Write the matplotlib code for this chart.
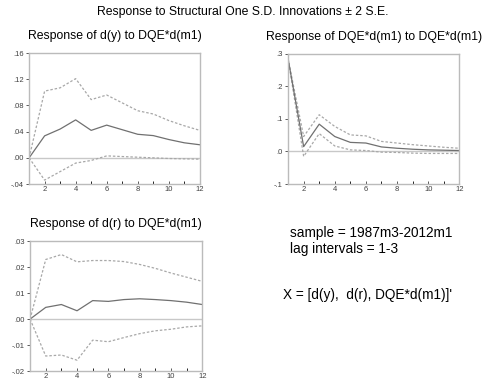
import matplotlib
matplotlib.use('Agg')
import matplotlib.pyplot as plt
import numpy as np

plt.rcParams['font.family'] = ['Liberation Sans', 'DejaVu Sans']

periods = np.arange(1, 13)

# Response of d(y) to DQE*d(m1)
dy_mid = [0.0, 0.0336, 0.044, 0.058, 0.042, 0.050, 0.043, 0.036, 0.034, 0.028, 0.023, 0.020]
dy_up = [0.0, 0.102, 0.107, 0.121, 0.089, 0.096, 0.084, 0.072, 0.067, 0.057, 0.049, 0.042]
dy_lo = [0.0, -0.034, -0.021, -0.008, -0.004, 0.003, 0.002, 0.001, 0.0, -0.001, -0.0015, -0.002]

# Response of DQE*d(m1) to DQE*d(m1)
dm_mid = [0.285, 0.015, 0.084, 0.046, 0.028, 0.026, 0.014, 0.010, 0.007, 0.005, 0.004, 0.003]
dm_up = [0.285, 0.046, 0.113, 0.077, 0.051, 0.048, 0.031, 0.026, 0.021, 0.017, 0.013, 0.010]
dm_lo = [0.285, -0.015, 0.055, 0.017, 0.005, 0.003, -0.002, -0.003, -0.005, -0.006, -0.006, -0.006]

# Response of d(r) to DQE*d(m1)
dr_mid = [0.0, 0.0045, 0.0056, 0.0032, 0.0071, 0.0068, 0.0075, 0.0078, 0.0075, 0.0071, 0.0065, 0.0056]
dr_up = [0.0, 0.0229, 0.0248, 0.022, 0.0225, 0.0225, 0.0221, 0.021, 0.0195, 0.0177, 0.0161, 0.0145]
dr_lo = [0.0, -0.0142, -0.0138, -0.0158, -0.0081, -0.0087, -0.0071, -0.0056, -0.0045, -0.0039, -0.003, -0.0026]


def fmt(v, nd):
    s = f"{v:.{nd}f}"
    return s.replace("0.", ".", 1)


def panel(ax, title, mid, up, lo, yticks, nd):
    ax.axhline(0, color='#c8c8c8', lw=1.0, zorder=1)
    ax.plot(periods, up, color='#a8a8a8', lw=0.9, ls=(0, (2, 1.5)))
    ax.plot(periods, lo, color='#a8a8a8', lw=0.9, ls=(0, (2, 1.5)))
    ax.plot(periods, mid, color='#707070', lw=0.9)
    ax.set_xlim(1, 12)
    ax.set_ylim(yticks[0], yticks[-1])
    ax.set_yticks(yticks)
    ax.set_yticklabels([fmt(v, nd) for v in yticks])
    ax.set_xticks(periods, minor=True)
    ax.set_xticks([2, 4, 6, 8, 10, 12])
    ax.tick_params(axis='both', labelsize=5.5, colors='#404040', length=2.5, width=0.6, pad=1.5)
    ax.tick_params(axis='x', which='both', direction='in', length=2.5)
    for s in ax.spines.values():
        s.set_color('#bbbbbb')
        s.set_linewidth(1.0)
    ax.set_title(title, fontsize=8.8, pad=10)


fig = plt.figure(figsize=(4.85, 3.85), dpi=100)
fig.text(0.5, 1 - 12 / 385, 'Response to Structural One S.D. Innovations \u00b1 2 S.E.',
         ha='center', va='center', fontsize=8.8)

ax1 = fig.add_axes([0.060, 0.522, 0.352, 0.340])
panel(ax1, 'Response of d(y) to DQE*d(m1)', dy_mid, dy_up, dy_lo,
      [-0.04, 0.0, 0.04, 0.08, 0.12, 0.16], 2)

ax2 = fig.add_axes([0.594, 0.522, 0.353, 0.338])
panel(ax2, 'Response of DQE*d(m1) to DQE*d(m1)', dm_mid, dm_up, dm_lo,
      [-0.1, 0.0, 0.1, 0.2, 0.3], 1)

ax3 = fig.add_axes([0.062, 0.036, 0.355, 0.338])
panel(ax3, 'Response of d(r) to DQE*d(m1)', dr_mid, dr_up, dr_lo,
      [-0.02, -0.01, 0.0, 0.01, 0.02, 0.03], 2)

fig.text(0.597, 1 - 233 / 385, 'sample = 1987m3-2012m1', fontsize=9.8, va='center')
fig.text(0.597, 1 - 249 / 385, 'lag intervals = 1-3', fontsize=9.8, va='center')
fig.text(0.583, 1 - 295 / 385, "X = [d(y),  d(r), DQE*d(m1)]'", fontsize=9.8, va='center')

fig.savefig('out.png', dpi=100)
